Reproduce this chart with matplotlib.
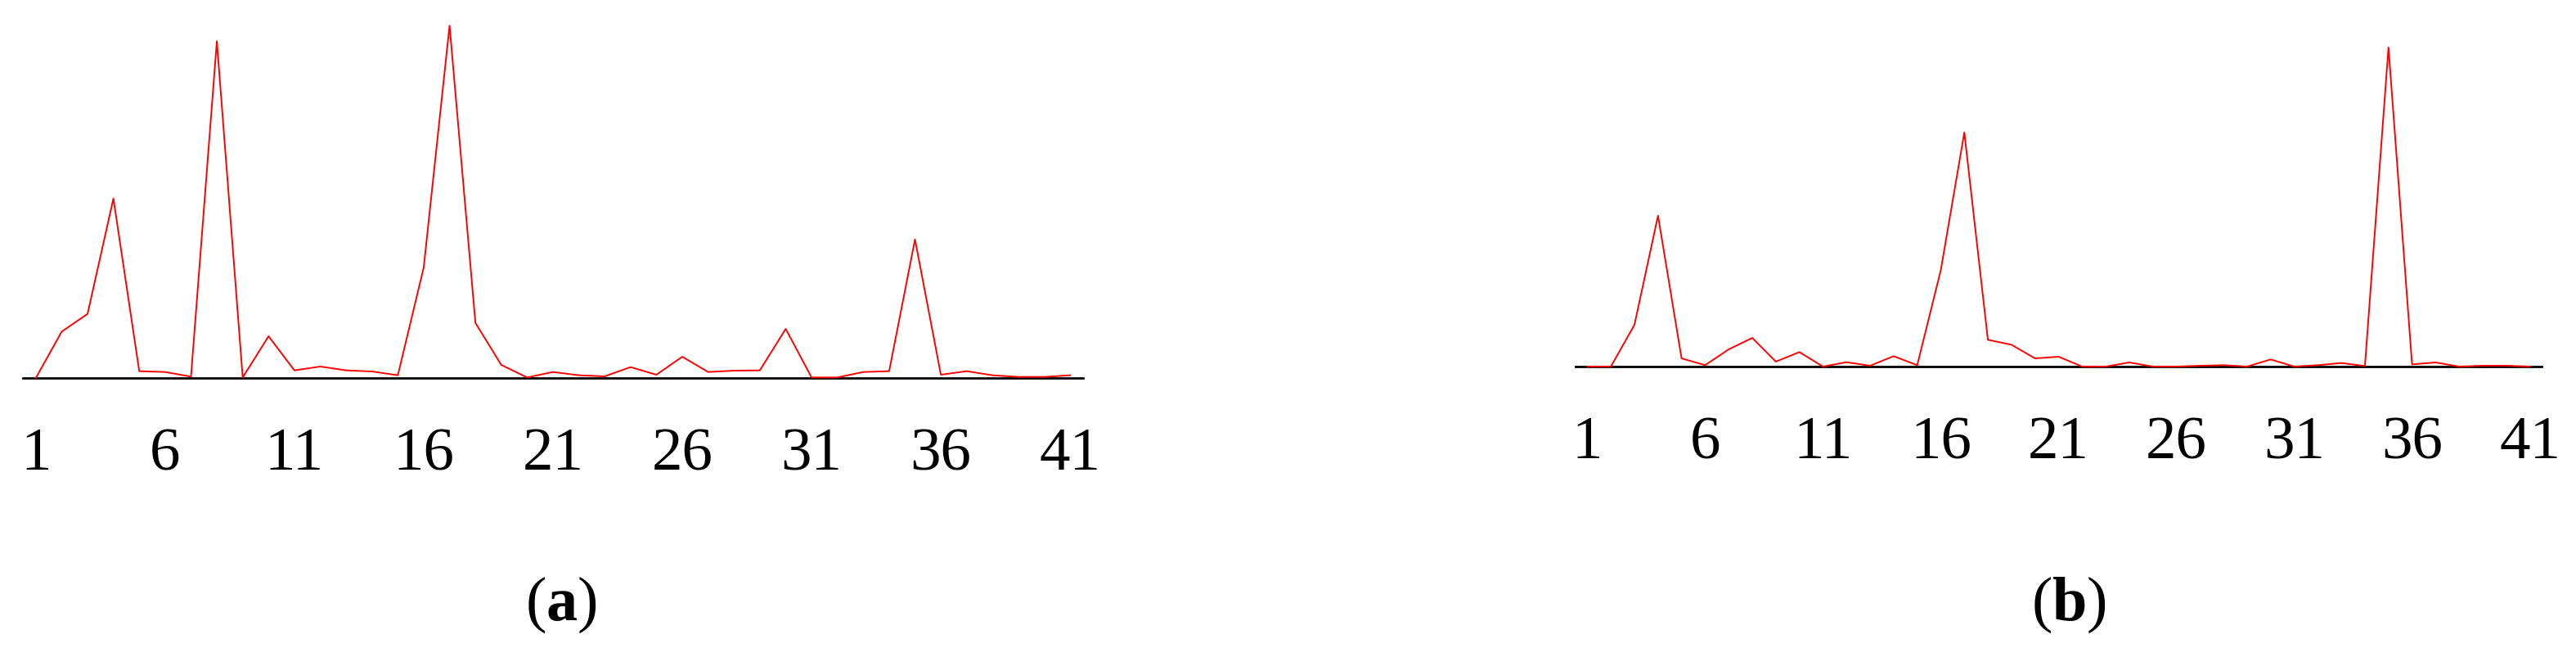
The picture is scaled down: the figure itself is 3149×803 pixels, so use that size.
import matplotlib.pyplot as plt

plt.rcParams['font.family'] = ['Liberation Serif', 'DejaVu Serif']
plt.rcParams['mathtext.fontset'] = 'custom'
plt.rcParams['mathtext.rm'] = 'Liberation Serif'
plt.rcParams['mathtext.bf'] = 'Liberation Serif:bold'

positions = list(range(1, 42))
tick_pos = [1, 6, 11, 16, 21, 26, 31, 36, 41]
tick_labels = [str(t) for t in tick_pos]

# values (arbitrary units)
series_a = [0, 170, 235, 658, 25, 22, 5, 1235, 2, 153,
            28, 42, 28, 24, 10, 405, 1292, 202, 48, 2,
            22, 10, 6, 40, 12, 78, 22, 27, 28, 180,
            2, 2, 22, 25, 508, 12, 25, 10, 4, 4,
            10]
series_b = [0, 0, 153, 553, 30, 5, 63, 105, 18, 53,
            0, 16, 3, 38, 5, 353, 858, 98, 80, 30,
            36, 0, 0, 15, 0, 0, 3, 5, 0, 26,
            0, 5, 13, 2, 1170, 8, 15, 0, 3, 3,
            0]

W, H = 3149, 804
fig = plt.figure(figsize=(W / 100, H / 100), dpi=100)

# (left px, right px, baseline px from top, ymax, label centre px)
panels = [
    (series_a, 28, 1324, 463, 1389, 'a', 686),
    (series_b, 1926, 3107, 449, 1347, 'b', 2529),
]

for values, x0, x1, base, ymax, tag, xc in panels:
    ax = fig.add_axes([x0 / W, (H - base) / H, (x1 - x0) / W, base / H])
    ax.plot(positions, values, color='#ff0000', lw=1.4, clip_on=False, zorder=3)
    ax.set_xlim(0.5, 41.5)
    ax.set_ylim(0, ymax)
    for s in ['top', 'left', 'right']:
        ax.spines[s].set_visible(False)
    ax.spines['bottom'].set_linewidth(2.0)
    ax.set_yticks([])
    ax.set_xticks(tick_pos)
    ax.set_xticklabels(tick_labels)
    ax.tick_params(axis='x', length=0, pad=43, labelsize=54)
    ax.patch.set_alpha(0)
    fig.text(xc / W, 46 / H, r'($\mathbf{' + tag + r'}$)',
             ha='center', va='baseline', fontsize=55)

fig.savefig('out.png', dpi=100)
